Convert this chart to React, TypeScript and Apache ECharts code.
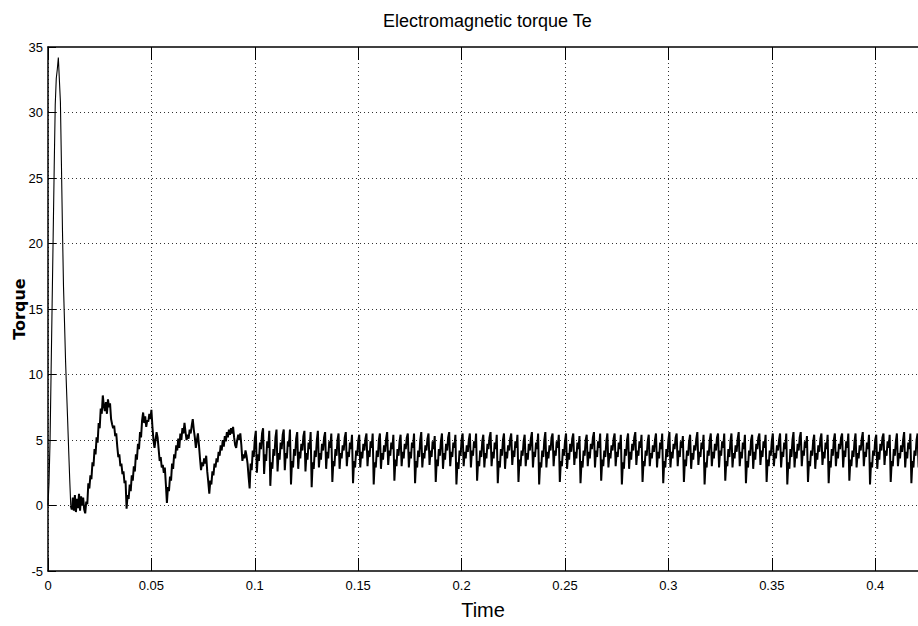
import React, { useEffect, useRef } from "react";
import * as echarts from "echarts";

// Sample period of the torque trace (s)
const sampleStep = 0.0005;

// Start-up torque peak, t = 0 .. 0.0105 s
const peakTorque = [
  0, 1.8, 5.0, 10.2, 15.4, 20.6, 25.8, 30.6, 32.6, 33.3, 34.2,
  32.5, 30.8, 26.0, 21.0, 16.7, 13.9, 11.0, 8.7, 6.5, 4.2, 2.0,
];

// Transient oscillation, t = 0.011 .. 0.097 s
const transientTorque = [
  0.0, -0.3, 0.6, -0.4, 0.8, -0.5, 0.5, -0.2, 0.9, -0.4, 0.7, 0.0, 0.6, -0.3, -0.6, 0.3, 0.1,
  1.7, 1.3, 2.3, 2.0, 3.3, 3.0, 4.3, 3.9, 5.2, 4.8, 6.3, 5.9, 7.4, 7.0, 8.4, 7.6, 7.2, 7.9, 7.0,
  8.1, 7.5, 7.8, 6.6, 6.2, 5.9, 6.1, 5.3, 5.5, 4.5, 3.7, 3.9, 3.0, 3.2, 2.4, 2.6, 1.7, 1.9, -0.25,
  0.8, 0.5, 1.6, 1.1, 2.3, 1.9, 3.0, 2.6, 3.9, 3.5, 4.7, 4.3, 5.6, 5.2, 6.5, 7.1, 6.3, 6.8, 6.0,
  6.5, 6.4, 7.0, 6.6, 7.3, 6.0, 5.0, 4.4, 5.0, 5.6, 5.2, 4.3, 3.4, 3.7, 2.9, 3.1, 2.5, 2.9, 1.6,
  0.2, 1.4, 1.1, 2.2, 1.9, 3.2, 2.8, 3.9, 3.6, 4.6, 4.2, 5.1, 4.4, 5.5, 5.0, 5.9, 5.5, 6.3, 5.6,
  5.0, 5.4, 5.1, 5.8, 5.5, 6.1, 6.6, 5.8, 5.2, 4.4, 5.0, 5.5, 4.6, 3.6, 2.7, 3.3, 3.0, 3.6, 3.2,
  3.8, 2.6, 1.8, 0.9, 1.9, 1.6, 2.6, 2.3, 3.2, 2.9, 3.6, 3.3, 4.1, 3.8, 4.6, 4.2, 5.0, 4.5, 5.3,
  4.9, 5.6, 5.2, 5.8, 5.4, 5.9, 5.5, 6.0, 5.2, 4.6, 4.4, 5.0, 5.4, 5.0, 5.5, 4.6, 3.4, 3.9, 3.6,
  4.2, 3.8, 3.2, 2.2,
];

// Steady-state ripple, t = 0.0975 .. 0.4215 s
const steadyTorque = [
  1.3, 3.2, 2.7, 4.2, 3.7, 5.1, 5.7, 2.5, 3.9, 3.4, 4.8, 4.3, 5.5, 5.9, 2.4, 3.9, 3.4, 4.9, 4.4, 5.7,
  1.5, 3.3, 2.8, 4.3, 3.8, 5.2, 5.8, 2.6, 4.0, 3.5, 4.8, 4.3, 5.4, 5.8, 2.7, 4.0, 3.6, 4.9, 4.5, 5.8,
  1.6, 3.4, 2.9, 4.3, 3.8, 5.1, 5.6, 2.8, 4.1, 3.6, 4.7, 4.2, 5.3, 5.7, 2.6, 4.0, 3.5, 4.8, 4.3, 5.6,
  1.4, 3.3, 2.8, 4.2, 3.7, 5.0, 5.7, 2.9, 4.0, 3.5, 4.7, 4.2, 5.2, 5.6, 2.8, 4.1, 3.6, 4.9, 4.4, 5.5,
  1.8, 3.4, 3.0, 4.3, 3.8, 5.0, 5.5, 2.8, 4.0, 3.6, 4.6, 4.2, 5.2, 5.6, 3.0, 4.1, 3.7, 4.8, 4.3, 5.4,
  1.7, 3.4, 2.9, 4.2, 3.8, 4.9, 5.4, 2.9, 4.1, 3.6, 4.7, 4.2, 5.1, 5.5, 3.0, 4.2, 3.7, 4.9, 4.4, 5.5,
  1.6, 3.3, 2.9, 4.2, 3.7, 5.0, 5.5, 2.8, 4.0, 3.5, 4.6, 4.1, 5.1, 5.6, 3.1, 4.2, 3.8, 4.8, 4.3, 5.4,
  1.9, 3.5, 3.0, 4.3, 3.8, 4.9, 5.4, 3.0, 4.1, 3.6, 4.7, 4.3, 5.2, 5.5, 2.9, 4.1, 3.6, 4.8, 4.4, 5.5,
  1.7, 3.4, 2.9, 4.2, 3.7, 5.0, 5.6, 2.9, 4.0, 3.6, 4.6, 4.2, 5.1, 5.5, 3.1, 4.2, 3.7, 4.9, 4.3, 5.3,
  1.8, 3.5, 3.0, 4.3, 3.8, 4.9, 5.5, 2.8, 4.0, 3.5, 4.7, 4.2, 5.2, 5.6, 3.0, 4.1, 3.7, 4.8, 4.4, 5.4,
  1.6, 3.3, 2.8, 4.2, 3.8, 5.0, 5.5, 3.0, 4.1, 3.6, 4.6, 4.1, 5.0, 5.5, 2.9, 4.2, 3.8, 4.9, 4.4, 5.5,
  1.9, 3.4, 3.0, 4.2, 3.7, 4.9, 5.4, 2.9, 4.0, 3.6, 4.7, 4.3, 5.2, 5.6, 3.0, 4.1, 3.6, 4.8, 4.3, 5.4,
  1.7, 3.4, 2.9, 4.3, 3.8, 5.0, 5.5, 2.8, 4.1, 3.6, 4.6, 4.2, 5.1, 5.5, 3.1, 4.2, 3.7, 4.9, 4.4, 5.4,
  1.8, 3.5, 3.0, 4.2, 3.8, 4.9, 5.4, 3.0, 4.0, 3.5, 4.7, 4.2, 5.1, 5.6, 2.9, 4.1, 3.7, 4.8, 4.3, 5.5,
  1.6, 3.3, 2.9, 4.2, 3.7, 5.0, 5.6, 2.9, 4.1, 3.6, 4.6, 4.2, 5.2, 5.5, 3.0, 4.2, 3.8, 4.9, 4.4, 5.4,
  1.8, 3.4, 3.0, 4.3, 3.8, 4.9, 5.5, 2.8, 4.0, 3.5, 4.7, 4.1, 5.1, 5.5, 3.1, 4.1, 3.6, 4.8, 4.3, 5.3,
  1.7, 3.4, 2.9, 4.2, 3.8, 5.0, 5.4, 3.0, 4.1, 3.6, 4.7, 4.3, 5.2, 5.6, 2.9, 4.2, 3.7, 4.9, 4.4, 5.5,
  1.9, 3.5, 3.0, 4.2, 3.7, 4.9, 5.5, 2.9, 4.0, 3.6, 4.6, 4.2, 5.1, 5.5, 3.0, 4.1, 3.7, 4.8, 4.3, 5.4,
  1.6, 3.3, 2.8, 4.3, 3.8, 5.0, 5.5, 2.8, 4.1, 3.5, 4.7, 4.2, 5.2, 5.6, 3.1, 4.2, 3.8, 4.9, 4.4, 5.4,
  1.8, 3.4, 3.0, 4.2, 3.8, 4.9, 5.4, 3.0, 4.0, 3.6, 4.6, 4.1, 5.0, 5.5, 2.9, 4.1, 3.6, 4.8, 4.3, 5.5,
  1.7, 3.4, 2.9, 4.3, 3.7, 5.0, 5.6, 2.9, 4.1, 3.6, 4.7, 4.3, 5.2, 5.5, 3.0, 4.2, 3.7, 4.9, 4.4, 5.3,
  1.8, 3.5, 3.0, 4.2, 3.8, 4.9, 5.4, 2.8, 4.0, 3.5, 4.6, 4.2, 5.1, 5.6, 3.1, 4.1, 3.7, 4.8, 4.3, 5.4,
  1.6, 3.3, 2.9, 4.2, 3.8, 5.0, 5.5, 3.0, 4.1, 3.6, 4.7, 4.2, 5.2, 5.5, 2.9, 4.2, 3.8, 4.9, 4.4, 5.5,
  1.9, 3.4, 3.0, 4.3, 3.7, 4.9, 5.5, 2.9, 4.0, 3.6, 4.6, 4.1, 5.1, 5.6, 3.0, 4.1, 3.6, 4.8, 4.3, 5.4,
  1.7, 3.4, 2.9, 4.2, 3.8, 5.0, 5.4, 2.8, 4.1, 3.5, 4.7, 4.3, 5.2, 5.5, 3.1, 4.2, 3.7, 4.9, 4.4, 5.4,
  1.8, 3.5, 3.0, 4.2, 3.8, 4.9, 5.5, 3.0, 4.0, 3.6, 4.6, 4.2, 5.0, 5.5, 2.9, 4.1, 3.7, 4.8, 4.3, 5.5,
  1.6, 3.3, 2.8, 4.3, 3.7, 5.0, 5.6, 2.9, 4.1, 3.6, 4.7, 4.2, 5.2, 5.6, 3.0, 4.2, 3.8, 4.9, 4.4, 5.3,
  1.8, 3.4, 3.0, 4.2, 3.8, 4.9, 5.4, 2.8, 4.0, 3.5, 4.6, 4.1, 5.1, 5.5, 3.1, 4.1, 3.6, 4.8, 4.3, 5.4,
  1.7, 3.4, 2.9, 4.3, 3.8, 5.0, 5.5, 3.0, 4.1, 3.6, 4.7, 4.3, 5.2, 5.5, 2.9, 4.2, 3.7, 4.9, 4.4, 5.5,
  1.9, 3.5, 3.0, 4.2, 3.7, 4.9, 5.5, 2.9, 4.0, 3.6, 4.6, 4.2, 5.1, 5.6, 3.0, 4.1, 3.7, 4.8, 4.3, 5.4,
  1.6, 3.3, 2.9, 4.2, 3.8, 5.0, 5.4, 2.8, 4.1, 3.5, 4.7, 4.2, 5.2, 5.5, 3.1, 4.2, 3.8, 4.9, 4.4, 5.4,
  1.8, 3.4, 3.0, 4.3, 3.8, 4.9, 5.5, 3.0, 4.0, 3.6, 4.6, 4.1, 5.0, 5.6, 2.9, 4.1, 3.6, 4.8, 4.3, 5.5,
  1.7, 3.4, 2.9, 4.2, 3.8, 5.0, 5.5, 2.9, 4.1,
];

const titleText = "Electromagnetic torque Te";
const xAxisName = "Time";
const yAxisName = "Torque";
const xRange = [0, 0.4207];
const xStep = 0.05;
const yRange = [-5, 35];
const yStep = 5;

const labelFont = "'Liberation Sans', Arial, sans-serif";

export default function App() {
  const ref = useRef<HTMLDivElement>(null);

  useEffect(() => {
    if (!ref.current) return;
    const chart = echarts.init(ref.current, undefined, { renderer: "svg" });

    const torque = [...peakTorque, ...transientTorque, ...steadyTorque];
    const data = torque.map((v, i) => [i * sampleStep, v]);
    const peakEnd = peakTorque.length + 1;
    const peakData = data.slice(0, peakEnd);
    const restData = data.slice(peakEnd - 1);

    const gridLine = { color: "#333", width: 1, type: [1, 3] as any };

    chart.setOption({
      animation: false,
      backgroundColor: "#ffffff",
      title: {
        text: titleText,
        left: 378,
        top: 7,
        textStyle: {
          fontFamily: labelFont,
          fontSize: 18,
          fontWeight: "normal",
          color: "#000",
        },
      },
      grid: { left: 48, right: 0, top: 47, bottom: 55, outerBoundsMode: "none", containLabel: false },
      xAxis: [
        {
          type: "value",
          min: xRange[0],
          max: xRange[1],
          interval: xStep,
          name: xAxisName,
          nameLocation: "middle",
          nameGap: 29,
          nameMoveOverlap: false,
          nameTextStyle: { fontFamily: labelFont, fontSize: 20, color: "#000" },
          axisLine: { show: true, onZero: false, lineStyle: { color: "#000", width: 1.5 } },
          axisTick: { show: true, inside: true, length: 13, lineStyle: { color: "#000" } },
          axisLabel: {
            show: true,
            showMaxLabel: false,
            margin: 8,
            color: "#000",
            fontFamily: labelFont,
            fontSize: 13,
          },
          splitLine: { show: true, showMaxLine: false, lineStyle: gridLine },
        },
        {
          type: "value",
          position: "top",
          min: xRange[0],
          max: xRange[1],
          interval: xStep,
          axisLine: { show: true, onZero: false, lineStyle: { color: "#000", width: 1.5 } },
          axisTick: { show: true, inside: true, length: 13, lineStyle: { color: "#000" } },
          axisLabel: { show: false },
          splitLine: { show: false },
        },
      ],
      yAxis: {
        type: "value",
        min: yRange[0],
        max: yRange[1],
        interval: yStep,
        name: yAxisName,
        nameLocation: "middle",
        nameRotate: 90,
        nameGap: 21,
        nameMoveOverlap: false,
        nameTextStyle: {
          fontFamily: "'DejaVu Sans', sans-serif",
          fontWeight: "bold",
          fontSize: 16,
          color: "#000",
        },
        axisLine: { show: true, onZero: false, lineStyle: { color: "#000", width: 1.5 } },
        axisTick: { show: true, inside: true, length: 8, lineStyle: { color: "#000" } },
        axisLabel: {
          margin: 5,
          color: "#000",
          fontFamily: labelFont,
          fontSize: 13,
        },
        splitLine: { show: true, showMinLine: false, showMaxLine: false, lineStyle: gridLine },
      },
      series: [
        {
          type: "line",
          xAxisIndex: 0,
          data: peakData,
          showSymbol: false,
          symbol: "none",
          lineStyle: { color: "#000", width: 1.1 },
          clip: true,
        },
        {
          type: "line",
          xAxisIndex: 0,
          data: restData,
          showSymbol: false,
          symbol: "none",
          lineStyle: { color: "#000", width: 2 },
          clip: true,
        },
      ],
    });

    return () => chart.dispose();
  }, []);

  return (
    <div
      ref={ref}
      style={{ position: "fixed", left: 0, top: 0, width: 918, height: 626, background: "#fff" }}
    />
  );
}
